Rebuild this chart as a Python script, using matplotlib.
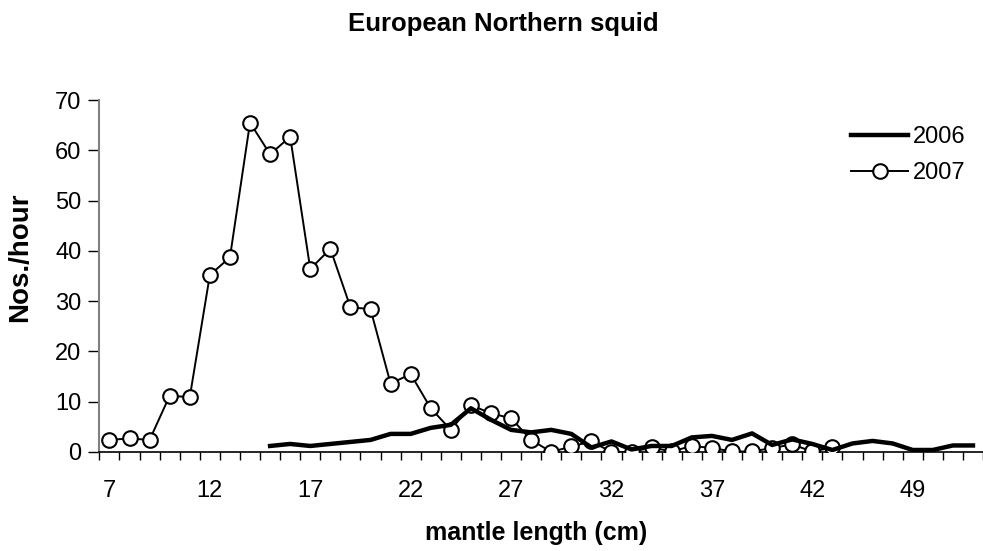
import matplotlib.pyplot as plt
import numpy as np

plt.rcParams['font.family'] = ['Liberation Sans', 'DejaVu Sans']

# mantle length classes (cm), x axis is categorical
length_cm = list(range(7, 43)) + [43, 44, 46, 47, 49, 50, 51, 52]

# Nos./hour per length class
catch_2007 = [2.4, 2.7, 2.4, 11.2, 10.9, 35.2, 38.7, 65.5, 59.2, 62.7, 36.4, 40.4,
              28.8, 28.4, 13.6, 15.5, 8.7, 4.4, 9.3, 7.7, 6.7, 2.4, 0.0, 1.1,
              2.1, 0.0, 0.0, 0.9, 0.1, 1.2, 0.8, 0.1, 0.1, 0.8, 1.5, 0.1, 0.9]
catch_2006 = [1.2, 1.6, 1.2, 1.6, 2.0, 2.4, 3.6, 3.6, 4.8, 5.4, 8.7, 6.4,
              4.4, 3.9, 4.4, 3.6, 0.9, 2.1, 0.5, 1.2, 1.2, 2.9, 3.2, 2.4,
              3.7, 1.4, 2.5, 1.6, 0.4, 1.7, 2.2, 1.7, 0.4, 0.4, 1.3, 1.3]
start_2006 = 8  # 2006 series starts at 15 cm

n = len(length_cm)
x = np.arange(n)
y2007 = np.full(n, np.nan)
y2007[:len(catch_2007)] = catch_2007
y2006 = np.full(n, np.nan)
y2006[start_2006:start_2006 + len(catch_2006)] = catch_2006

fig = plt.figure(figsize=(9.83, 5.51), dpi=100)
W, H = 983, 551
ax = fig.add_axes([99.4 / W, 99 / H, 1 - 99.4 / W, 352 / H])

l07, = ax.plot(x, y2007, '-', color='black', lw=1.4, marker='o', ms=10.5,
               mfc='white', mec='black', mew=1.5, zorder=3, label='2007')
l06, = ax.plot(x, y2006, '-', color='black', lw=3.2, zorder=4, label='2006')

ax.set_xlim(-0.5, (W - 109.5) / 20.25)
ax.set_ylim(0, 70)
ax.set_yticks(np.arange(0, 71, 10))

# labels every 5th class, tick marks between classes
ax.set_xticks(x[::5])
ax.set_xticklabels([str(length_cm[i]) for i in x[::5]])
ax.set_xticks(np.arange(-0.5, n, 1), minor=True)
ax.tick_params(axis='x', which='major', length=0, pad=20, labelsize=17)
ax.tick_params(axis='x', which='minor', length=6, width=1, direction='out')
ax.tick_params(axis='y', length=8, width=1, direction='out', pad=5, labelsize=17)

for s in ['top', 'right']:
    ax.spines[s].set_visible(False)
ax.spines['left'].set_color('#808080')
ax.spines['left'].set_linewidth(1.5)
ax.spines['bottom'].set_color('black')
ax.spines['bottom'].set_linewidth(1.2)

ax.legend(handles=[l06, l07], loc='upper left', frameon=False, fontsize=17,
          handlelength=2.4, handletextpad=0.2, labelspacing=0.6)
leg = ax.get_legend()
leg.set_bbox_to_anchor((830 / W, 1 - 105 / H), transform=fig.transFigure)

fig.text(503 / W, 1 - 24 / H, 'European Northern squid', ha='center', va='center',
         fontsize=18.5, fontweight='bold')
fig.text(20 / W, 1 - 257 / H, 'Nos./hour', ha='center', va='center', rotation=90,
         fontsize=20, fontweight='bold')
fig.text(536 / W, 1 - 533 / H, 'mantle length (cm)', ha='center', va='center',
         fontsize=18, fontweight='bold')

fig.savefig('out.png', dpi=100)
